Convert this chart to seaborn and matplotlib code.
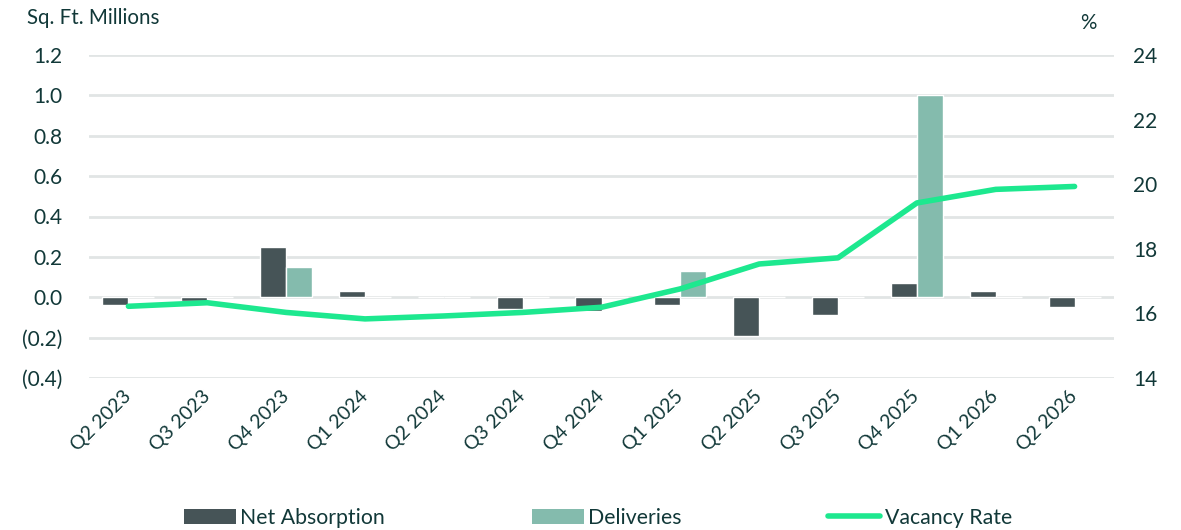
import numpy as np
import pandas as pd
import matplotlib
matplotlib.use("Agg")
import matplotlib.pyplot as plt
import seaborn as sns
from matplotlib.patches import Patch
from matplotlib.lines import Line2D
from matplotlib.ticker import FuncFormatter, MultipleLocator

quarters = ["Q2 2023", "Q3 2023", "Q4 2023", "Q1 2024", "Q2 2024", "Q3 2024", "Q4 2024",
            "Q1 2025", "Q2 2025", "Q3 2025", "Q4 2025", "Q1 2026", "Q2 2026"]
net_absorption = [-0.04, -0.02, 0.25, 0.03, 0.0, -0.06, -0.07, -0.04, -0.19, -0.09, 0.07, 0.03, -0.05]
deliveries = [0.0, 0.0, 0.15, 0.0, 0.0, 0.0, 0.0, 0.13, 0.0, 0.0, 1.0, 0.0, 0.0]
vacancy_rate = [16.22, 16.33, 16.03, 15.83, 15.92, 16.03, 16.19, 16.76, 17.53, 17.72, 19.42, 19.84, 19.93]
series_names = ["Net Absorption", "Deliveries", "Vacancy Rate"]

C_NET = "#465457"
C_DEL = "#84BBAD"
C_VAC = "#1DE88F"
C_TXT = "#113838"
C_GRID = "#e1e5e5"

sns.set_theme(style="white")
plt.rcParams["font.family"] = ["Lato", "DejaVu Sans"]

df = pd.DataFrame({
    "quarter": quarters * 2,
    "value": net_absorption + deliveries,
    "series": [series_names[0]] * len(quarters) + [series_names[1]] * len(quarters),
})

fig = plt.figure(figsize=(11.81, 5.30), dpi=100)
ax = fig.add_axes([89 / 1181, 1 - 378 / 530, (1114 - 89) / 1181, (378 - 55) / 530])

sns.barplot(data=df, x="quarter", y="value", hue="series", order=quarters,
            hue_order=series_names[:2], palette=[C_NET, C_DEL], saturation=1,
            width=0.66, ax=ax, legend=False, errorbar=None)

ax.set_xlim(-0.5, len(quarters) - 0.5)
ax.set_ylim(-0.4, 1.2)
ax.yaxis.set_major_locator(MultipleLocator(0.2))
ax.yaxis.set_major_formatter(FuncFormatter(
    lambda v, p: f"({abs(v):.1f})" if v < -1e-9 else f"{abs(v):.1f}"))
ax.grid(axis="y", color=C_GRID, lw=2)
ax.set_axisbelow(True)
for s in ax.spines.values():
    s.set_visible(False)
ax.set_xlabel("")
ax.set_ylabel("")
ax.tick_params(axis="y", length=0, pad=19, labelsize=15, labelcolor=C_TXT)
ax.tick_params(axis="x", length=0, pad=11, labelsize=14, labelcolor=C_TXT)
for lab in ax.get_xticklabels():
    lab.set_rotation(45)
    lab.set_ha("right")
    lab.set_va("center")
    lab.set_rotation_mode("anchor")

ax2 = ax.twinx()
sns.lineplot(x=np.arange(len(quarters)), y=vacancy_rate, ax=ax2, color=C_VAC,
             lw=4, solid_capstyle="round", solid_joinstyle="round", legend=False)
ax2.set_ylim(14, 24)
ax2.yaxis.set_major_locator(MultipleLocator(2))
for s in ax2.spines.values():
    s.set_visible(False)
ax2.tick_params(axis="y", length=0, pad=14, labelsize=15, labelcolor=C_TXT)
ax2.set_ylabel("")
ax2.grid(False)

fig.text(27 / 1181, 1 - 18 / 530, "Sq. Ft. Millions", fontsize=14.8, color=C_TXT,
         ha="left", va="center")
fig.text(1088 / 1181, 1 - 23 / 530, "%", fontsize=14.8, color=C_TXT,
         ha="center", va="center")

handles = [Patch(facecolor=C_NET, edgecolor="none"),
           Patch(facecolor=C_DEL, edgecolor="none"),
           Line2D([0], [0], color=C_VAC, lw=4, solid_capstyle="round")]
fig.legend(handles, series_names, loc="center", bbox_to_anchor=(598 / 1181, 1 - 518 / 530),
           ncol=3, frameon=False, fontsize=15.3, labelcolor=C_TXT,
           handlelength=2.45, handleheight=0.75, handletextpad=0.2, columnspacing=6.9)

fig.savefig("out.png", dpi=100)
